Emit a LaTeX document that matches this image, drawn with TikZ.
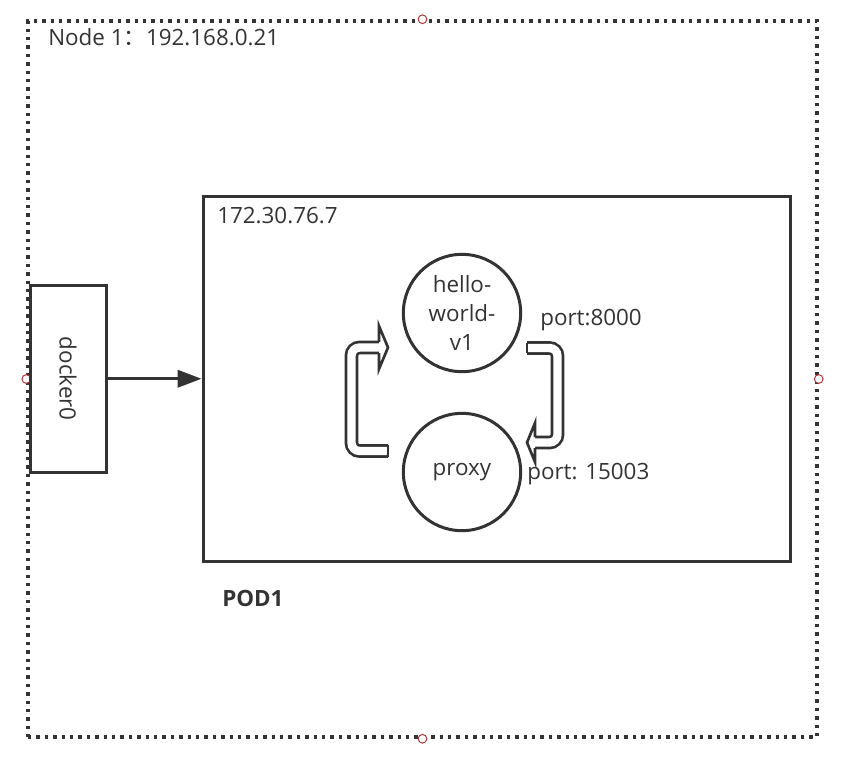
\documentclass[tikz,border=0pt]{standalone}
\usepackage{fontspec}
\setmainfont{Open Sans}
\newfontfamily\cjk{Noto Sans CJK SC}
\usetikzlibrary{arrows.meta,fit}
\definecolor{ink}{HTML}{333333}
\definecolor{pinred}{HTML}{B03A3A}
\begin{document}
\begin{tikzpicture}[x=0.75pt,y=-0.75pt,
	frame/.style={draw=ink, line width=2.6pt, dash pattern=on 2.6pt off 3.7pt, inner sep=0pt},
	box/.style={draw=ink, line width=2.25pt, inner sep=0pt},
	svc/.style={circle, draw=ink, line width=2.25pt, minimum size=88pt, inner sep=0pt, align=center, text=ink, font=\fontsize{16.8}{21.75}\selectfont},
	lbl/.style={text=ink, inner sep=0pt, font=\fontsize{16.8}{20}\selectfont},
	pin/.style={circle, draw=pinred, fill=white, line width=0.75pt, minimum size=6.5pt, inner sep=0pt},
	link/.style={draw=ink, line width=2.25pt, -{Triangle[length=18pt,width=13pt]}},
	band/.style={draw=ink, line width=2pt, double=white, double distance=6.25pt, rounded corners=6pt},
	head/.style={draw=ink, fill=white, line width=2pt, line join=miter},
	tail/.style={draw=ink, line width=2pt, line cap=projecting}]
	\useasboundingbox (0,0) rectangle (841,764);
	% host frame
	\node [frame, fit={(28,21) (817,737)}] (host) {};
	\node [pin] (pinN) at (host.north) {};
	\node [pin] (pinE) at (host.east) {};
	\node [pin] (pinS) at (host.south) {};
	\node [pin] (pinW) at (host.west) {};
	\node [lbl, anchor=west] (hostip) at (48,37) {Node 1{\cjk ：}192.168.0.21};
	% bridge
	\node [box, fit={(30,285.5) (106,472)}] (docker) {};
	\node [lbl, rotate=-90] (dockerlbl) at (docker.center) {docker0};
	% pod
	\node [box, fit={(203,196) (790,561)}] (pod) {};
	\node [lbl, anchor=west] (podip) at (217,216) {172.30.76.7};
	\node [lbl, anchor=west, font=\fontsize{16.8}{20}\selectfont\bfseries] (podname) at (222,598) {POD1};
	\draw [link] (docker.east) -- (docker.east -| pod.west);
	% containers
	\node [svc] (hello) at (462,313) {hello-\\world-\\v1};
	\node [svc] (proxy) at (462,472) {proxy};
	\node [lbl, anchor=west] (port1) at (540,320) {port:8000};
	\node [lbl, anchor=west] (port2) at (527,474) {port: 15003};
	% traffic loop
	\coordinate (inTail) at (388,451);
	\coordinate (inHead) at (381,347.5);
	\coordinate (outTail) at (527,348);
	\coordinate (outHead) at (533,442.5);
	\draw [band] (inTail) -- (351.5,451) -- (351.5,347.5) -- (inHead);
	\draw [tail] (388,445) -- (388,457);
	\draw [head] (379,342) -- (379,326) -- (388,347.5) -- (379,369) -- (379,353);
	\draw [band] (outTail) -- (557.5,348) -- (557.5,442.5) -- (outHead);
	\draw [tail] (527,343) -- (527,353);
	\draw [head] (535,437) -- (535,423) -- (527,442.5) -- (535,462) -- (535,448);
\end{tikzpicture}
\end{document}
